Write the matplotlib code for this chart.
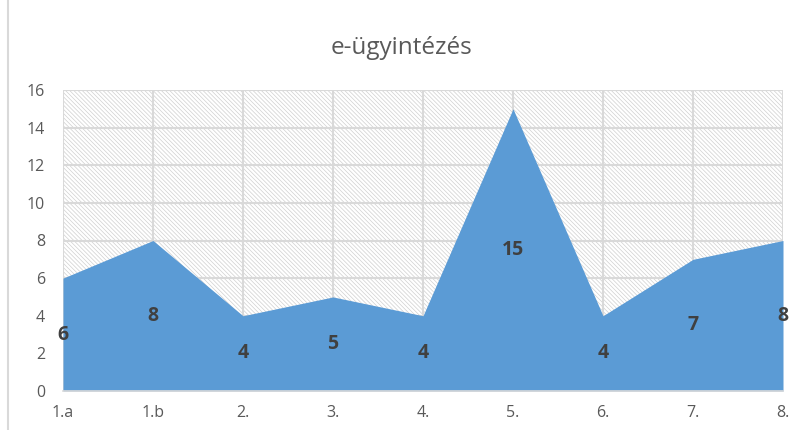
import matplotlib
matplotlib.use("Agg")
import matplotlib.pyplot as plt
from matplotlib.patches import Rectangle
from matplotlib.lines import Line2D

plt.rcParams['font.family'] = ['Open Sans', 'DejaVu Sans']
plt.rcParams['hatch.linewidth'] = 0.5
plt.rcParams['hatch.color'] = '#D0D0D0'

kategoriak = ["1.a", "1.b", "2.", "3.", "4.", "5.", "6.", "7.", "8."]
ertekek = [6, 8, 4, 5, 4, 15, 4, 7, 8]
y_tickek = [0, 2, 4, 6, 8, 10, 12, 14, 16]

fig = plt.figure(figsize=(8.03, 4.30), dpi=100)
ax = fig.add_axes([63 / 803, 39 / 430, 720 / 803, 301 / 430])

x = list(range(len(kategoriak)))

# sraffozott hatter
ax.add_patch(Rectangle((0, 0), len(kategoriak) - 1, 16, facecolor='white',
                       edgecolor='#D0D0D0', hatch='\\' * 8, linewidth=0, zorder=0.1))

ax.set_xlim(0, len(kategoriak) - 1)
ax.set_ylim(0, 16)
ax.set_xticks(x)
ax.set_xticklabels(kategoriak)
ax.set_yticks(y_tickek)
ax.set_axisbelow(True)
ax.grid(True, color='#D9D9D9', linewidth=1.5)

ax.fill_between(x, ertekek, 0, color='#5B9BD5', linewidth=0, zorder=2)

for xi, v in zip(x, ertekek):
    ax.text(xi, v / 2, str(v), ha='center', va='center', fontsize=14,
            fontweight='bold', color='#404040', zorder=3)

for s in ['top', 'right', 'left']:
    ax.spines[s].set_visible(False)
ax.spines['bottom'].set_color('#D9D9D9')
ax.spines['bottom'].set_linewidth(1.2)
ax.spines['bottom'].set_zorder(4)

ax.tick_params(axis='both', length=0, labelsize=11.5, labelcolor='#595959')
ax.tick_params(axis='x', pad=10)
ax.tick_params(axis='y', pad=13)

fig.text(0.5, 0.888, "e-ügyintézés", ha='center', va='center', fontsize=17.5,
         color='#595959')

# bal oldali keret
fig.add_artist(Line2D([8 / 803, 8 / 803], [0, 1], transform=fig.transFigure,
                      color='#D9D9D9', linewidth=1.5))

fig.savefig("out.png", dpi=100)
